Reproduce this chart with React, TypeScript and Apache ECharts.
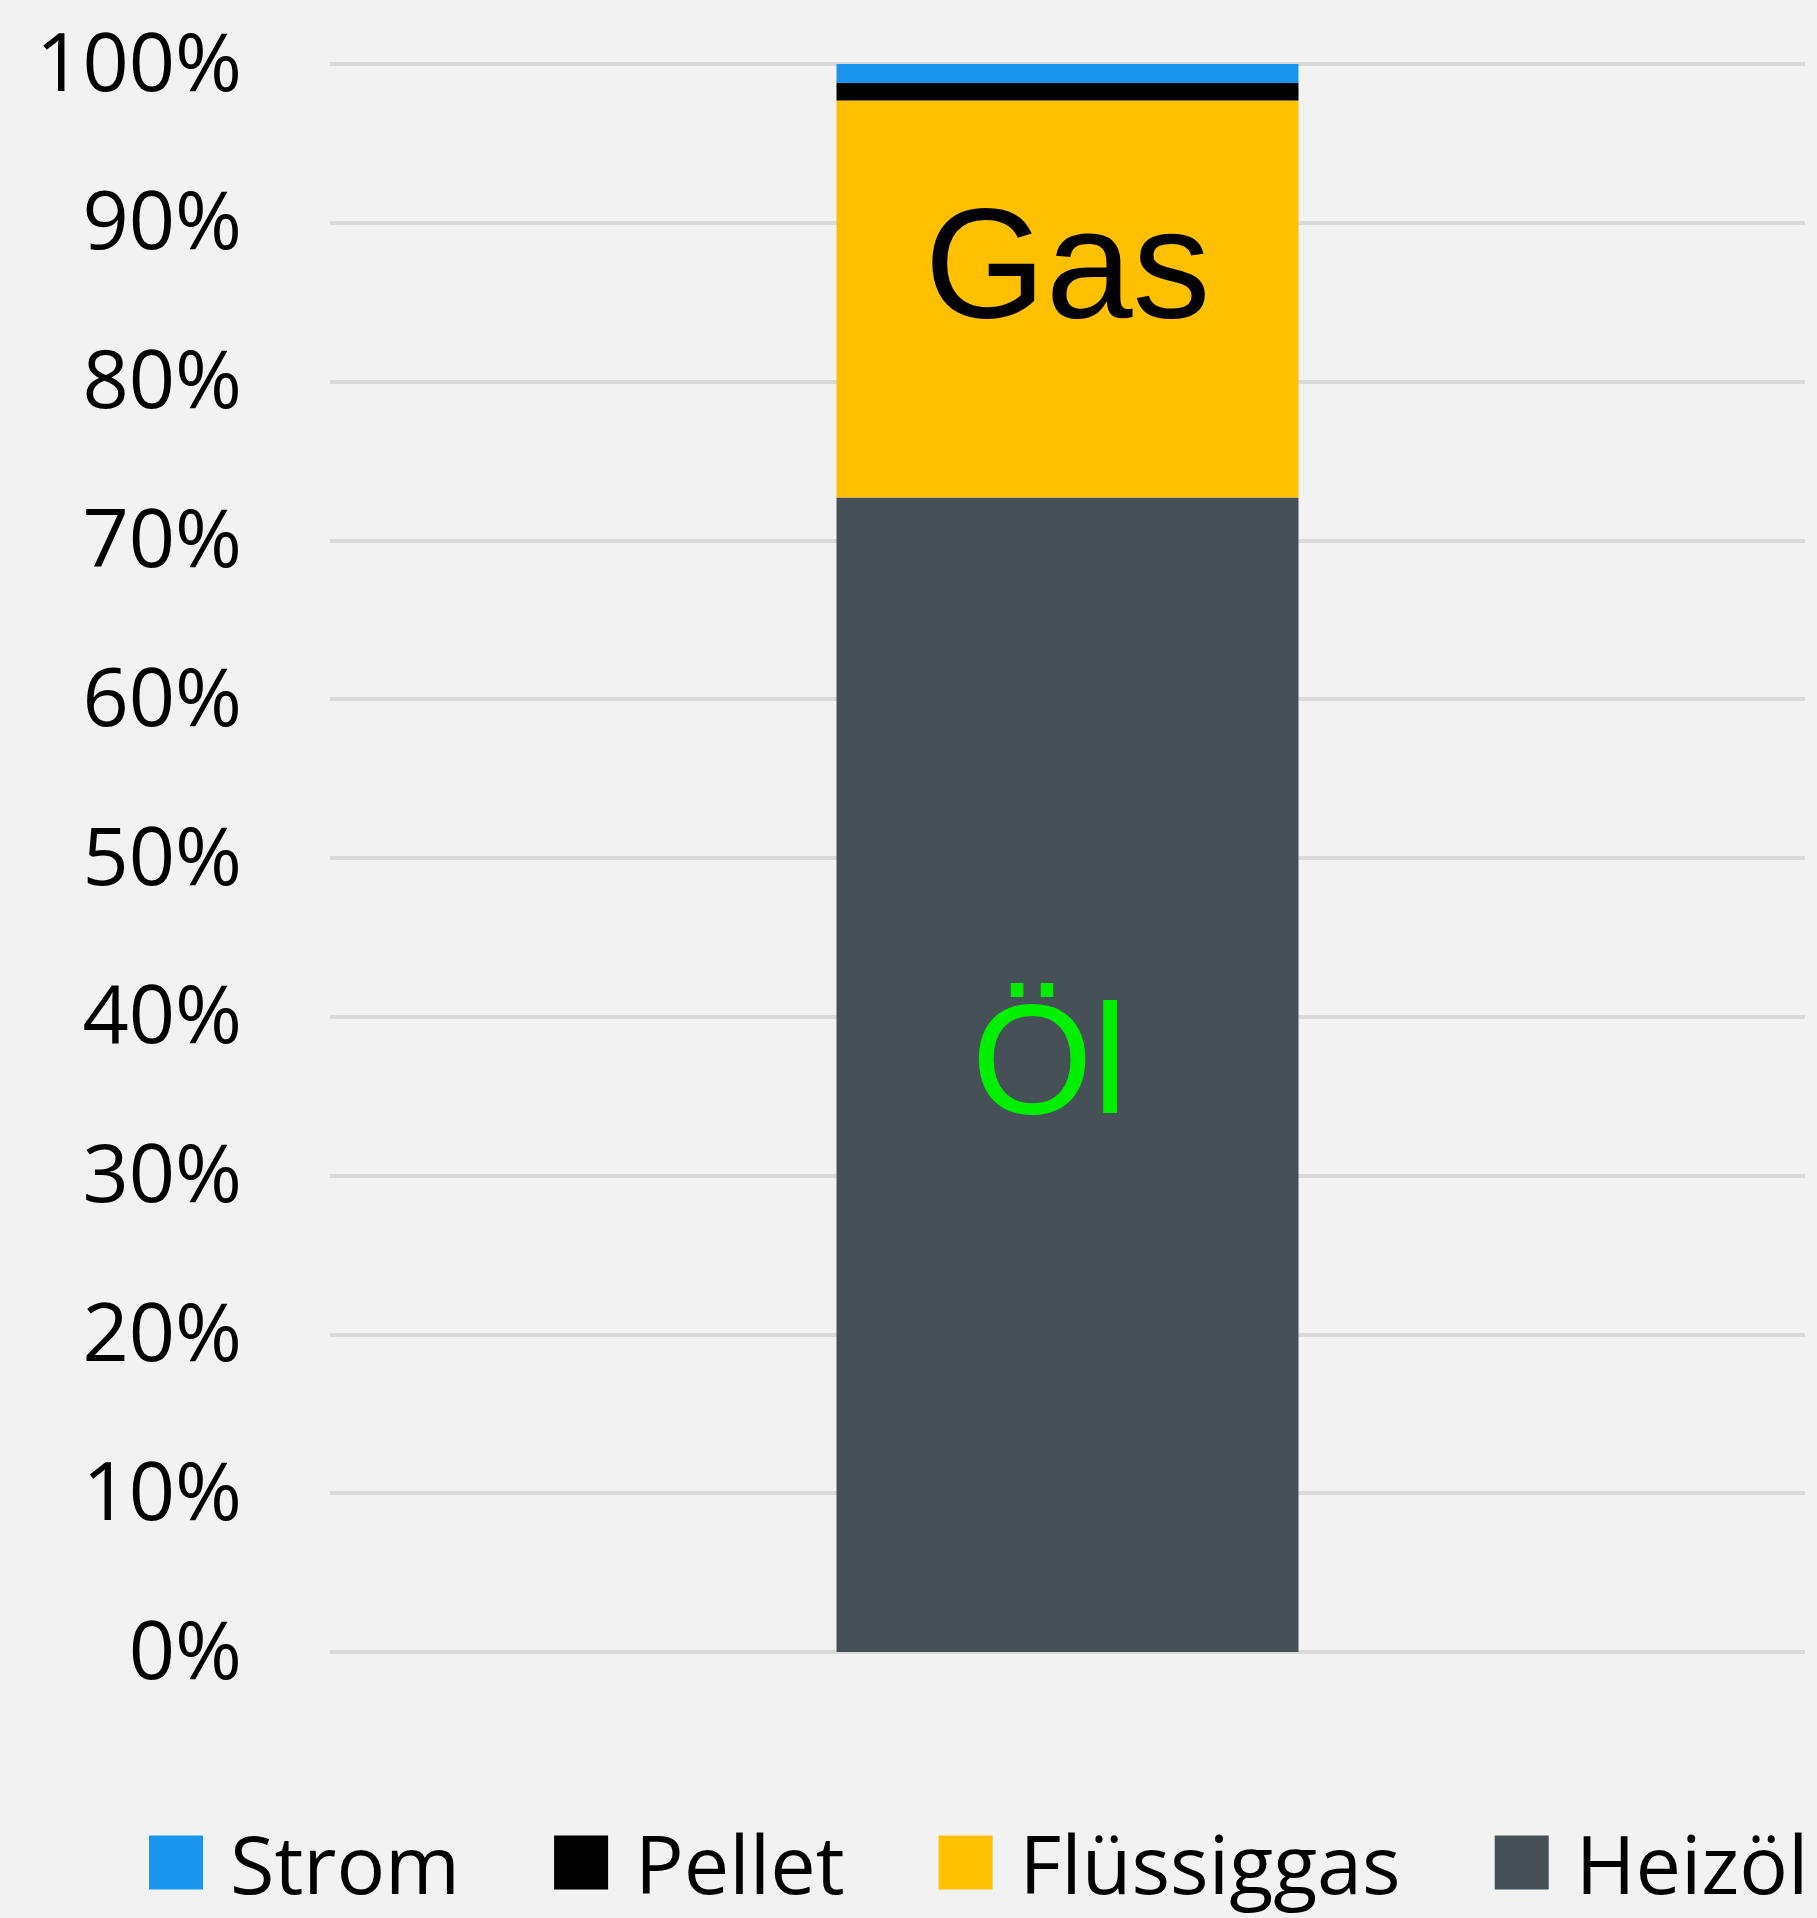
import React, { useEffect, useRef } from "react";
import * as echarts from "echarts";

const categories = ["Anteil"];
const seriesNames = ["Heizöl", "Flüssiggas", "Pellet", "Strom"];
const heizoelValues = [72.7];
const fluessiggasValues = [25.0];
const pelletValues = [1.1];
const stromValues = [1.2];
const legendOrder = ["Strom", "Pellet", "Flüssiggas", "Heizöl"];
const colors = ["#465157", "#FFC000", "#000000", "#1A96F0"];

export default function App() {
  const ref = useRef<HTMLDivElement>(null);
  useEffect(() => {
    document.body.style.margin = "0";
    const chart = echarts.init(ref.current!, null, { renderer: "svg" });
    const values = [heizoelValues, fluessiggasValues, pelletValues, stromValues];
    const labels: any[] = [
      {
        show: true,
        position: "inside",
        formatter: "Öl",
        color: "#00F000",
        fontFamily: "Liberation Sans",
        fontSize: 156,
        offset: [-18, -16],
      },
      {
        show: true,
        position: "inside",
        formatter: "Gas",
        color: "#000000",
        fontFamily: "Liberation Sans",
        fontSize: 156,
        offset: [0, -36],
      },
      { show: false },
      { show: false },
    ];
    chart.setOption({
      animation: false,
      backgroundColor: "#F2F2F2",
      grid: { left: 330, right: 12, top: 64, bottom: 266, containLabel: false },
      legend: {
        data: legendOrder,
        left: 144,
        right: 0,
        top: 1817,
        itemWidth: 54,
        itemHeight: 54,
        itemGap: 94,
        icon: "rect",
        textStyle: {
          fontFamily: "Open Sans",
          fontSize: 81,
          lineHeight: 81,
          color: "#000000",
          padding: [0, 0, 0, 22],
        },
      },
      xAxis: {
        type: "category",
        data: categories,
        axisLine: { show: false },
        axisTick: { show: false },
        axisLabel: { show: false },
      },
      yAxis: {
        type: "value",
        min: 0,
        max: 100,
        interval: 10,
        axisLine: { show: false },
        axisTick: { show: false },
        splitLine: { lineStyle: { color: "#D9D9D9", width: 4 } },
        axisLabel: {
          formatter: (v: number) => `{a|${v}%}`,
          margin: 88,
          rich: {
            a: {
              fontFamily: "Open Sans",
              fontSize: 81,
              lineHeight: 81,
              color: "#000000",
              padding: [0, 0, 10, 0],
            },
          },
        },
      },
      series: seriesNames.map((name, i) => ({
        name,
        type: "bar",
        stack: "total",
        barWidth: 462,
        data: values[i],
        itemStyle: { color: colors[i] },
        label: labels[i],
      })),
    });
    return () => chart.dispose();
  }, []);
  return <div ref={ref} style={{ width: 1817, height: 1918 }} />;
}
